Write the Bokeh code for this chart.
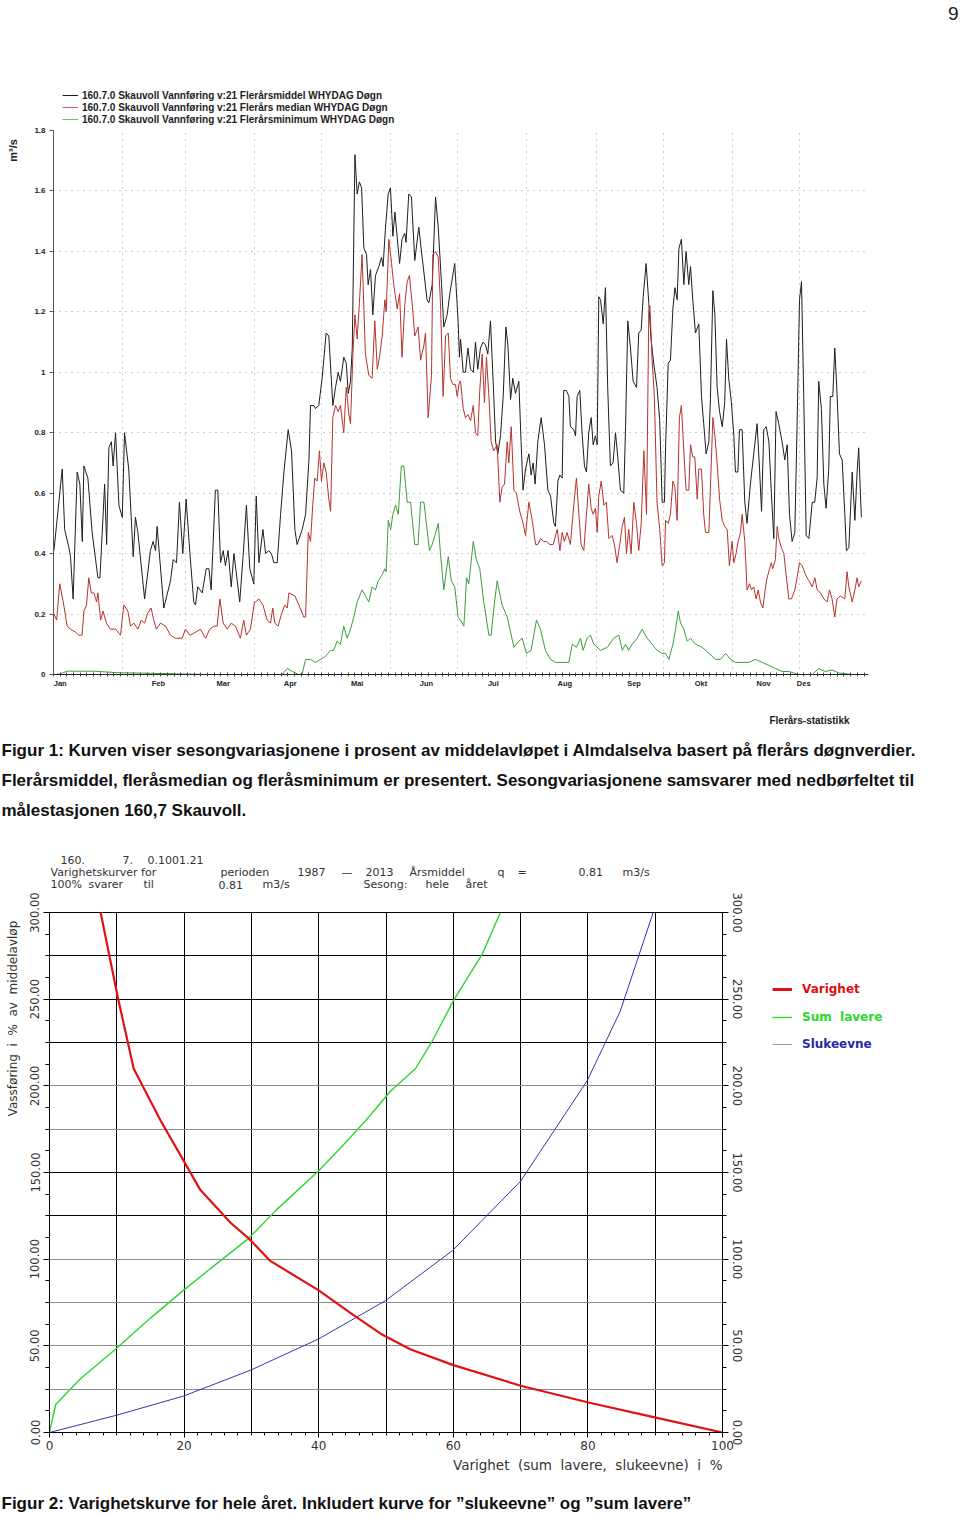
import math
from bokeh.plotting import figure
from bokeh.models import (FixedTicker, CustomJSTickFormatter, PrintfTickFormatter, LinearAxis,
                          Label, Legend, LegendItem, Grid, Range1d)
from bokeh.layouts import column, row
from bokeh.embed import file_html
from bokeh.resources import INLINE

# ---------------- Chart 1 data (day of year, m3/s) ----------------
mean_day = [0.2, 3.9, 5.0, 6.9, 7.6, 8.8, 10.6, 11.8, 12.9, 13.6, 15.4, 17.3, 19.9, 20.8, 22.9, 23.8, 24.8, 25.9, 26.7, 27.8,
            29.3, 30.8, 31.8, 33.7, 35.7, 36.7, 37.8, 40.8, 43.4, 44.6, 45.7, 46.4, 49.4, 52.4, 53.6, 55.1, 56.4, 57.9, 59.4, 61.1,
            62.8, 63.6, 64.6, 66.6, 68.4, 69.6, 70.6, 72.5, 73.6, 74.8, 76.0, 77.0, 78.2, 79.6, 80.8, 81.8, 83.4, 84.9, 86.4, 87.9,
            89.7,
            90.8, 92.0, 93.8, 95.0, 96.4, 97.6, 98.7, 100.2, 101.7, 103.2, 105.1, 106.6, 108.1, 109.1, 111.4, 112.9, 114.4, 115.1, 116.6, 117.3,
            118.8, 120.3, 122.1, 123.3, 125.1, 126.3, 127.5, 128.5, 130.0, 131.1, 132.0, 133.0, 133.8, 135.0, 136.0, 137.0, 138.0, 139.0, 140.2, 140.9,
            142.0, 143.0, 144.2, 145.7, 146.9, 147.6, 148.7, 149.9, 150.9, 152.0, 152.9, 155.0, 156.1, 157.3, 157.9, 159.1, 160.3, 161.8, 163.6, 165.1,
            167.3, 168.1, 169.6, 171.1, 172.3, 173.8, 174.8, 176.3, 177.5, 179.7, 181.2, 181.8,
            182.3, 183.5, 184.5, 185.6, 186.8, 188.0, 189.0, 190.0, 191.2, 192.4, 193.5, 194.5, 195.7, 196.9, 198.0, 199.0, 200.2, 201.4, 202.6, 203.5,
            204.7, 205.7, 206.9, 208.4, 209.4, 210.3, 211.4, 212.9, 213.9, 214.8, 215.7, 216.9, 218.4, 219.9, 221.4, 222.6, 224.1, 224.8, 225.9, 226.8,
            227.8, 228.5, 229.7, 230.8, 231.5, 233.0, 233.8, 234.5, 235.7, 236.8, 237.8, 238.7, 239.7, 240.8, 241.7, 242.7, 243.5, 244.2, 245.0, 246.2,
            247.2, 248.2, 249.4, 250.6, 251.7, 252.7, 253.9, 255.4, 256.2, 257.2, 258.4, 259.6, 261.1, 262.1, 263.2, 264.1, 265.4, 266.6, 267.6, 268.8,
            270.3, 271.5, 272.6, 273.6,
            274.1, 275.3, 276.3, 277.4, 278.3, 279.3, 280.1, 281.2, 282.3, 283.3, 284.5, 285.3, 286.3, 287.5, 289.0, 290.2, 291.2, 292.3, 293.5, 294.2,
            295.3, 296.2, 297.2, 298.3, 299.5, 300.6, 301.4, 302.4, 303.6, 304.7, 305.4, 306.5, 307.2, 308.4, 309.6, 310.6, 312.1, 313.6, 315.1, 316.2,
            317.1, 318.1, 319.2, 320.4, 321.5, 322.6, 323.6, 324.8, 326.3, 327.5, 328.6, 329.6, 330.8, 332.0, 333.0, 334.1, 335.0, 336.0, 337.1, 338.3,
            339.8, 340.9, 342.0, 342.7, 343.9, 345.0, 346.0, 347.2, 347.9, 349.0, 349.9, 350.9, 352.0, 353.2, 354.4, 355.1, 356.2, 357.7, 358.9, 359.9,
            360.6, 361.8]
mean_q = [0.41, 0.68, 0.48, 0.42, 0.39, 0.25, 0.67, 0.63, 0.44, 0.69, 0.65, 0.47, 0.32, 0.32, 0.63, 0.43, 0.75, 0.77, 0.69, 0.80,
          0.56, 0.52, 0.80, 0.68, 0.39, 0.52, 0.47, 0.25, 0.41, 0.44, 0.41, 0.49, 0.22, 0.31, 0.38, 0.37, 0.57, 0.40, 0.58, 0.40,
          0.24, 0.23, 0.29, 0.27, 0.35, 0.35, 0.28, 0.61, 0.61, 0.37, 0.41, 0.36, 0.41, 0.29, 0.40, 0.34, 0.24, 0.39, 0.56, 0.35,
          0.30,
          0.59, 0.37, 0.48, 0.40, 0.41, 0.40, 0.37, 0.37, 0.53, 0.67, 0.81, 0.74, 0.48, 0.43, 0.48, 0.53, 0.71, 0.89, 0.89, 0.88,
          0.89, 0.98, 1.13, 1.12, 0.89, 0.95, 1.00, 0.97, 1.05, 1.03, 0.93, 0.97, 1.08, 1.72, 1.59, 1.63, 1.61, 1.41, 1.39, 1.29,
          1.34, 1.19, 1.32, 1.35, 1.38, 1.35, 1.48, 1.59, 1.61, 1.45, 1.53, 1.36, 1.44, 1.46, 1.43, 1.59, 1.58, 1.37, 1.48, 1.38,
          1.24, 1.23, 1.29, 1.58, 1.48, 1.29, 1.15, 1.19, 1.26, 1.36, 1.17, 1.05,
          1.11, 1.00, 1.00, 1.08, 1.01, 1.00, 1.10, 1.01, 1.08, 1.10, 1.09, 1.06, 1.17, 0.97, 0.77, 0.73, 0.79, 0.92, 1.15, 1.09,
          0.91, 0.98, 0.93, 0.97, 0.77, 0.61, 0.68, 0.73, 0.66, 0.70, 0.63, 0.77, 0.85, 0.76, 0.61, 0.59, 0.50, 0.49, 0.64, 0.66,
          0.65, 0.94, 0.94, 0.92, 0.82, 0.81, 0.79, 0.92, 0.94, 0.79, 0.69, 0.67, 0.80, 0.85, 0.76, 0.79, 0.76, 1.25, 1.24, 1.16,
          1.28, 0.95, 0.69, 0.70, 0.80, 0.72, 0.61, 0.60, 0.82, 1.17, 1.08, 0.97, 0.95, 1.13, 1.14, 1.25, 1.36, 1.23, 1.11, 1.03,
          0.95, 0.84, 0.57, 0.57,
          0.75, 1.03, 1.04, 1.21, 1.28, 1.24, 1.41, 1.44, 1.29, 1.40, 1.29, 1.35, 1.24, 1.13, 1.16, 0.92, 0.83, 0.73, 0.77, 0.91,
          1.27, 1.19, 0.95, 0.87, 0.82, 0.90, 1.11, 0.98, 0.90, 0.79, 0.67, 0.67, 0.81, 0.81, 0.57, 0.50, 0.63, 0.73, 0.83, 0.68,
          0.54, 0.81, 0.82, 0.77, 0.60, 0.45, 0.87, 0.83, 0.77, 0.71, 0.76, 0.53, 0.44, 0.47, 0.82, 1.24, 1.30, 0.92, 0.46, 0.45,
          0.57, 0.57, 0.65, 0.97, 0.88, 0.63, 0.55, 0.68, 0.92, 0.92, 1.08, 0.93, 0.73, 0.71, 0.53, 0.41, 0.42, 0.67, 0.51, 0.67,
          0.75, 0.52]

median_day = [0.2, 1.4, 2.8, 4.6, 6.1, 7.6, 9.9, 11.3, 12.8, 13.6, 14.8, 15.8, 16.9, 18.1, 19.3, 19.9, 21.1, 22.2, 23.7, 25.5,
              27.8, 30.0, 31.5, 33.3, 34.5, 36.0, 37.8, 39.3, 40.8, 42.0, 43.7, 44.9, 46.1, 47.9, 50.2, 52.4, 54.6, 57.6, 59.1, 61.1,
              63.6, 65.8, 68.1, 70.0, 71.8, 73.3, 74.5, 76.0, 77.8, 79.6, 81.5, 83.7, 85.2, 86.4, 88.2, 90.0,
              90.5, 92.0, 93.8, 95.7, 97.2, 98.2, 99.1, 100.6, 102.1, 103.6, 104.7, 105.4, 108.1, 109.9, 112.1, 112.9, 114.1, 115.1, 116.1, 117.0,
              118.1, 119.1, 120.0, 121.1, 122.1, 123.3, 124.1, 125.1, 126.3, 127.5, 128.5, 130.0, 131.1, 132.3, 133.0, 134.1, 135.0, 136.0, 137.0, 138.2,
              139.7, 141.2, 142.7, 143.9, 145.0, 146.0, 147.2, 148.4, 149.0, 150.2, 151.4, 152.4, 153.9, 155.0, 156.1, 157.3, 158.4, 159.4, 160.6, 161.8,
              163.3, 164.4, 165.9, 166.6, 167.8, 169.3, 169.9, 171.1, 172.3, 173.3, 174.5, 175.6, 176.8, 177.8, 178.8, 180.0, 180.8, 181.8,
              182.3, 183.5, 184.5, 185.6, 186.8, 188.0, 189.0, 190.0, 190.9, 192.0, 193.0, 193.9, 195.0, 196.0, 197.2, 198.7, 199.9, 200.9, 202.0, 203.2,
              203.9, 205.0, 206.2, 207.3, 208.8, 210.3, 211.4, 212.9, 214.4, 215.9, 216.9, 218.1, 219.6, 220.8, 222.3, 223.8, 225.6, 226.8, 227.8, 228.8,
              230.0, 231.5, 233.0, 234.2, 235.3, 236.3, 237.5, 238.7, 239.7, 240.8, 241.7, 242.7, 243.5, 244.2, 245.3, 246.5, 247.6, 248.7, 250.2, 251.2,
              252.4, 253.6, 254.7, 255.7, 256.6, 257.6, 258.7, 259.9, 261.1, 262.1, 263.2, 264.4, 265.6, 266.6, 267.1, 268.1, 269.1, 270.3, 271.5, 272.6,
              273.6,
              274.1, 275.3, 276.3, 277.4, 278.3, 279.3, 280.3, 281.2, 282.3, 283.3, 284.5, 285.3, 286.3, 287.2, 288.3, 289.0, 290.2, 291.2, 292.0, 293.5,
              295.3, 296.2, 297.2, 298.3, 299.5, 300.6, 301.7, 302.7, 303.9, 304.7, 305.7, 306.6, 307.7, 308.4, 309.6, 310.6, 311.7, 312.6, 313.6, 314.7,
              315.6, 316.6, 317.7, 318.9, 319.6, 320.7, 321.5, 322.1, 323.3, 324.1, 324.8, 326.0, 327.1, 328.1, 329.3, 330.5, 332.0, 333.0, 334.1, 335.3,
              336.8, 338.3, 339.8, 341.0, 342.0, 343.5, 345.0, 346.5, 347.5, 348.7, 349.9, 350.9, 352.4, 354.4, 355.4, 356.2, 357.7, 358.9, 359.9, 360.6,
              361.8]
median_q = [0.20, 0.18, 0.30, 0.23, 0.16, 0.15, 0.14, 0.13, 0.13, 0.21, 0.23, 0.32, 0.27, 0.27, 0.24, 0.27, 0.18, 0.21, 0.17, 0.15,
            0.15, 0.13, 0.23, 0.21, 0.16, 0.17, 0.15, 0.18, 0.17, 0.20, 0.22, 0.18, 0.15, 0.17, 0.16, 0.13, 0.12, 0.12, 0.15, 0.13,
            0.14, 0.15, 0.12, 0.15, 0.16, 0.16, 0.25, 0.17, 0.15, 0.17, 0.16, 0.12, 0.18, 0.13, 0.15, 0.24,
            0.24, 0.25, 0.23, 0.18, 0.17, 0.22, 0.17, 0.16, 0.20, 0.23, 0.22, 0.27, 0.26, 0.23, 0.19, 0.19, 0.47, 0.44, 0.56, 0.65,
            0.64, 0.74, 0.64, 0.70, 0.67, 0.58, 0.54, 0.85, 0.89, 0.87, 0.89, 0.80, 0.95, 0.86, 0.83, 1.06, 1.19, 1.11, 1.23, 1.39,
            1.06, 0.99, 0.98, 1.17, 1.01, 1.05, 1.12, 1.24, 1.20, 1.44, 1.36, 1.29, 1.21, 1.26, 1.05, 1.22, 1.30, 1.32, 1.23, 1.12,
            1.15, 1.04, 1.09, 1.13, 0.85, 0.99, 1.39, 1.40, 1.38, 1.23, 0.92, 1.12, 1.13, 0.98, 0.96, 0.96, 0.92, 0.97,
            0.97, 0.88, 0.85, 0.86, 0.84, 0.89, 0.80, 0.79, 0.94, 1.06, 0.90, 1.05, 0.92, 0.77, 0.74, 0.76, 0.57, 0.62, 0.63, 0.77,
            0.70, 0.82, 0.61, 0.60, 0.54, 0.50, 0.46, 0.57, 0.51, 0.43, 0.43, 0.45, 0.44, 0.44, 0.43, 0.43, 0.48, 0.41, 0.47, 0.44,
            0.47, 0.43, 0.56, 0.65, 0.53, 0.43, 0.41, 0.53, 0.63, 0.55, 0.53, 0.55, 0.47, 0.59, 0.64, 0.56, 0.57, 0.45, 0.46, 0.43,
            0.37, 0.43, 0.49, 0.52, 0.40, 0.48, 0.40, 0.57, 0.50, 0.41, 0.50, 0.74, 0.53, 1.20, 1.22, 1.04, 0.92, 0.57, 0.48, 0.36,
            0.37,
            0.51, 0.50, 0.53, 0.64, 0.62, 0.51, 0.85, 0.89, 0.74, 0.61, 0.61, 0.76, 0.72, 0.72, 0.58, 0.68, 0.68, 0.53, 0.47, 0.47,
            0.85, 0.79, 0.70, 0.58, 0.51, 0.49, 0.48, 0.36, 0.44, 0.37, 0.40, 0.44, 0.47, 0.53, 0.44, 0.28, 0.30, 0.28, 0.29, 0.25,
            0.28, 0.24, 0.22, 0.29, 0.32, 0.35, 0.37, 0.35, 0.38, 0.49, 0.45, 0.42, 0.40, 0.33, 0.25, 0.25, 0.28, 0.32, 0.37, 0.36,
            0.33, 0.31, 0.29, 0.32, 0.28, 0.27, 0.25, 0.24, 0.28, 0.25, 0.19, 0.25, 0.26, 0.25, 0.34, 0.29, 0.24, 0.28, 0.32, 0.29,
            0.31]

min_day = [0.2, 3.0, 6.1, 18.1, 28.5, 43.4, 56.0, 68.8, 90.5, 102.4, 104.7, 106.9, 109.9, 111.4, 112.9, 115.1, 117.3, 119.6, 121.8, 124.1,
           125.5, 127.0, 128.5, 130.0, 131.5, 133.0, 134.5, 136.0, 138.2, 139.7, 141.2, 142.7, 144.2, 145.4, 147.2, 148.4, 149.0, 149.9, 151.0, 152.0,
           153.2, 154.4, 155.8, 156.9, 158.4, 159.9, 161.8, 163.3, 164.4, 165.9, 167.3, 168.4, 169.6, 170.8, 172.3, 173.3, 174.8, 176.8, 178.2, 179.7,
           181.2, 182.3, 183.8, 185.0, 186.0, 188.0, 189.4, 190.9, 192.7, 195.0, 196.0, 197.2, 198.7, 200.9, 203.2, 206.2, 208.4, 209.9, 211.8, 213.9,
           216.3, 218.1, 220.3, 222.6, 224.8, 228.5, 230.8, 232.3, 234.2, 236.0, 237.2, 239.0, 240.5, 242.0, 245.0, 248.0, 250.9, 253.2, 254.7, 256.2,
           257.6, 259.1, 261.4, 263.6, 265.9, 268.1, 270.3, 272.6, 274.1, 275.6, 277.4, 278.6, 279.8, 280.8, 282.3, 283.8, 285.3, 287.5, 290.5, 293.5,
           296.5, 298.7, 301.0, 303.2, 305.4, 308.4, 311.4, 314.4, 317.4, 320.4, 323.3, 326.3, 329.3, 333.8, 339.8, 342.7, 345.7, 348.7, 351.7, 357.7,
           362.1]
min_q = [0.0, 0.002, 0.011, 0.011, 0.006, 0.004, 0.002, 0.0, 0.0, 0.0, 0.02, 0.01, 0.0, 0.003, 0.05, 0.05, 0.04, 0.05, 0.06, 0.08,
         0.08, 0.11, 0.10, 0.16, 0.12, 0.15, 0.19, 0.24, 0.28, 0.26, 0.24, 0.29, 0.28, 0.31, 0.33, 0.35, 0.34, 0.51, 0.48, 0.53,
         0.56, 0.53, 0.69, 0.69, 0.57, 0.57, 0.43, 0.43, 0.57, 0.57, 0.48, 0.41, 0.43, 0.46, 0.50, 0.40, 0.28, 0.39, 0.31, 0.29,
         0.19, 0.18, 0.16, 0.32, 0.30, 0.44, 0.38, 0.35, 0.24, 0.13, 0.13, 0.22, 0.31, 0.23, 0.19, 0.09, 0.11, 0.12, 0.07, 0.08,
         0.18, 0.15, 0.08, 0.05, 0.04, 0.04, 0.04, 0.10, 0.09, 0.12, 0.08, 0.12, 0.13, 0.10, 0.08, 0.09, 0.12, 0.13, 0.08, 0.10,
         0.08, 0.10, 0.12, 0.15, 0.12, 0.10, 0.08, 0.07, 0.07, 0.05, 0.10, 0.15, 0.21, 0.17, 0.15, 0.11, 0.12, 0.10, 0.09, 0.07,
         0.05, 0.05, 0.07, 0.05, 0.04, 0.04, 0.04, 0.05, 0.04, 0.03, 0.02, 0.01, 0.01, 0.0, 0.0, 0.02, 0.01, 0.015, 0.005, 0.0,
         0.0]

month_names = ["Jan", "Feb", "Mar", "Apr", "Mai", "Jun", "Jul", "Aug", "Sep", "Okt", "Nov", "Des"]
month_label_day = [3, 47, 76, 106, 136, 167, 197, 229, 260, 290, 318, 336]
month_start_day = [31, 59, 90, 120, 151, 181, 212, 243, 273, 304, 334, 365]
q_ticks = [0, 0.2, 0.4, 0.6, 0.8, 1.0, 1.2, 1.4, 1.6, 1.8]

legend1_labels = ["160.7.0 Skauvoll Vannføring v:21 Flerårsmiddel WHYDAG Døgn",
                  "160.7.0 Skauvoll Vannføring v:21 Flerårs median WHYDAG Døgn",
                  "160.7.0 Skauvoll Vannføring v:21 Flerårsminimum WHYDAG Døgn"]

caption1 = ["Figur 1: Kurven viser sesongvariasjonene i prosent av middelavløpet i Almdalselva basert på flerårs døgnverdier.",
            "Flerårsmiddel, fleråsmedian og fleråsminimum er presentert. Sesongvariasjonene samsvarer med nedbørfeltet til",
            "målestasjonen 160,7 Skauvoll."]

# ---------------- Chart 2 data (% duration, % of mean flow) ----------------
varighet_pct = [7.6, 10.1, 12.5, 16.5, 19.9, 22.4, 26.9, 29.6, 32.8, 40.0, 44.7, 49.2, 53.6, 59.9, 70.0, 80.4, 89.6, 100.0]
varighet_val = [300, 252, 210, 180, 157, 140, 121, 112, 99, 82, 69, 57, 48, 39, 27, 17, 9, 0]
sum_lavere_pct = [0, 0.9, 4.6, 9.8, 15.0, 19.9, 24.7, 29.6, 33.6, 40.0, 43.2, 47.0, 50.7, 54.4, 56.9, 60.0, 64.3, 67.0]
sum_lavere_val = [0, 16, 31, 48, 66, 82, 97, 112, 128, 151, 164, 180, 197, 210, 226, 249, 276, 300]
slukeevne_pct = [0, 10, 19.9, 29.9, 40, 49.9, 59.9, 70, 79.9, 84.8, 89.7]
slukeevne_val = [0, 10, 21, 36, 54, 76, 105, 145, 203, 243, 300]

pct_ticks = [0, 20, 40, 60, 80, 100]
pct_grid = [10, 20, 30, 40, 50, 60, 70, 80, 90]
val_ticks = [0, 50, 100, 150, 200, 250, 300]
val_grid_dark = [125, 150, 225, 250, 275]
val_grid_light = [25, 50, 75, 100, 175, 200]

NB = "\u00a0"
header_lines = [
    [(60, "160."), (122, "7."), (147, "0.1001.21")],
    [(50, "Varighetskurver for"), (220, "perioden"), (297, "1987"), (341, "—"), (365, "2013"), (409, "Årsmiddel"),
     (497, "q"), (517, "="), (578, "0.81"), (622, "m3/s")],
    [(50, "100%"), (88, "svarer"), (143, "til"), (218, "0.81"), (262, "m3/s"), (363, "Sesong:"), (425, "hele"), (465, "året")],
]
caption2 = "Figur 2: Varighetskurve for hele året. Inkludert kurve for ”slukeevne” og ”sum lavere”"
y2_title = NB.join(["Vassføring", "", "i", "", "%", "", "av", "", "middelavløp"])
x2_title = NB.join(["Varighet", "", "(sum", "", "lavere,", "", "slukeevne)", "", "i", "", "%"])

SANS = "Liberation Sans"
PLOT = "DejaVu Sans"
NAN = float("nan")


def no_align(fig):
    if "frame_align" in fig.properties():
        fig.frame_align = False
    return fig


def text_fig(x0, y0, w, h):
    """A blank strip whose data units are page pixels (y grows downward)."""
    f = figure(width=w, height=h, x_range=Range1d(x0, x0 + w), y_range=Range1d(y0 + h, y0),
               x_axis_type=None, y_axis_type=None, output_backend="svg", toolbar_location=None,
               min_border=0, title_location=None)
    f.outline_line_color = None
    return no_align(f)


def put(f, x, y, text, font=SANS, size="12px", style="normal", align="left", color="#222", angle=0.0):
    f.add_layout(Label(x=x, y=y, text=text, text_font=font, text_font_size=size, text_font_style=style,
                       text_align=align, text_baseline="middle", text_color=color, angle=angle))


# ===== strip 0: page number + legend of chart 1 (y 0..126) =====
s0 = text_fig(0, 0, 960, 126)
put(s0, 958, 13, "9", size="19px", align="right", color="#222")
d_mean = s0.line([NAN], [NAN], line_color="#1e1e1e", line_width=1)
d_med = s0.line([NAN], [NAN], line_color="#c8625c", line_width=1)
d_min = s0.line([NAN], [NAN], line_color="#6fbf6f", line_width=1)
leg1 = Legend(items=[LegendItem(label=legend1_labels[0], renderers=[d_mean]),
                     LegendItem(label=legend1_labels[1], renderers=[d_med]),
                     LegendItem(label=legend1_labels[2], renderers=[d_min])],
              location=(62, 1), orientation="vertical",
              label_text_font=SANS, label_text_font_style="bold", label_text_font_size="10px",
              label_text_color="#222", glyph_width=16, glyph_height=12, label_height=12,
              label_standoff=4, spacing=0, padding=0, margin=0,
              border_line_color=None, background_fill_alpha=0)
s0.add_layout(leg1)

# ===== row 1: y label + chart 1 (y 126..700) =====
l1 = text_fig(0, 126, 24, 574)
put(l1, 12, 150, "m³/s", size="11px", style="bold", align="center", angle=math.pi / 2)

p1 = figure(width=936, height=574, x_range=Range1d(0, 365), y_range=Range1d(0, 1.8),
            output_backend="svg", toolbar_location=None, title_location=None,
            min_border_left=29, min_border_right=92, min_border_top=4, min_border_bottom=26)
no_align(p1)
p1.outline_line_color = None

p1.xaxis.ticker = FixedTicker(ticks=month_label_day, minor_ticks=list(range(0, 366, 3)))
p1.xaxis.major_label_overrides = {d: m for d, m in zip(month_label_day, month_names)}
p1.xaxis.major_tick_line_color = None
p1.xaxis.major_tick_out = 2
p1.xaxis.major_label_standoff = 2
p1.xaxis.minor_tick_in = 2
p1.xaxis.minor_tick_out = 2
p1.xaxis.minor_tick_line_color = "#444"
p1.xaxis.axis_line_color = "#222"
p1.xaxis.major_label_text_font = SANS
p1.xaxis.major_label_text_font_style = "bold"
p1.xaxis.major_label_text_font_size = "7.5px"
p1.xaxis.major_label_text_color = "#222"

p1.yaxis.ticker = FixedTicker(ticks=q_ticks)
p1.yaxis.formatter = CustomJSTickFormatter(code="return String(Math.round(tick*10)/10);")
p1.yaxis.major_tick_out = 4
p1.yaxis.major_tick_in = 0
p1.yaxis.minor_tick_line_color = None
p1.yaxis.axis_line_color = "#555"
p1.yaxis.major_tick_line_color = "#555"
p1.yaxis.major_label_standoff = 4
p1.yaxis.major_label_text_font = SANS
p1.yaxis.major_label_text_font_style = "bold"
p1.yaxis.major_label_text_font_size = "8px"
p1.yaxis.major_label_text_color = "#222"

p1.xgrid.ticker = FixedTicker(ticks=month_start_day)
p1.ygrid.ticker = FixedTicker(ticks=q_ticks)
for g in (p1.xgrid, p1.ygrid):
    g.grid_line_color = "#999999"
    g.grid_line_dash = "1 5"
    g.grid_line_width = 1

p1.line(mean_day, mean_q, line_color="#1e1e1e", line_width=1)
p1.line(median_day, median_q, line_color="#b5332e", line_width=1)
p1.line(min_day, min_q, line_color="#3c9c3c", line_width=1)

# ===== strip 2: footnote, caption 1, header of chart 2 (y 700..892) =====
s2 = text_fig(0, 700, 960, 192)
put(s2, 849, 720, "Flerårs-statistikk", size="10px", style="bold", align="right")
for i, line in enumerate(caption1):
    put(s2, 1, 750 + 30 * i, line, size="17px", style="bold", color="#111")
for i, segs in enumerate(header_lines):
    for sx, txt in segs:
        put(s2, sx, 859 + 12.5 * i, txt, font=PLOT, size="11px", color="#333")

# ===== row 2: y label + chart 2 + legend (y 892..1456) =====
l2 = text_fig(0, 892, 22, 564)
put(l2, 12, 1018, y2_title, font=PLOT, size="12px", align="center", color="#333", angle=math.pi / 2)

p2 = figure(width=728, height=564, x_range=Range1d(0, 100), y_range=Range1d(0, 300),
            output_backend="svg", toolbar_location=None, title_location=None,
            min_border_left=27, min_border_right=28, min_border_top=20, min_border_bottom=24)
no_align(p2)
p2.outline_line_color = "black"
p2.outline_line_width = 1

p2.xaxis.ticker = FixedTicker(ticks=pct_ticks, minor_ticks=list(range(0, 101, 2)))
p2.xaxis.major_tick_out = 5
p2.xaxis.major_tick_in = 0
p2.xaxis.minor_tick_out = 3
p2.xaxis.minor_tick_in = 0
p2.xaxis.major_label_standoff = 3
p2.xaxis.axis_line_color = "black"
p2.xaxis.major_label_text_font = PLOT
p2.xaxis.major_label_text_font_size = "12px"
p2.xaxis.major_label_text_color = "#333"

yfmt = PrintfTickFormatter(format="%.2f")
yticker = FixedTicker(ticks=val_ticks, minor_ticks=[12.5 * k for k in range(25)])
right_axis = LinearAxis()
p2.add_layout(right_axis, "right")
for ax in (p2.yaxis[0], right_axis):
    ax.ticker = yticker
    ax.formatter = yfmt
    ax.major_label_orientation = "vertical"
    ax.major_tick_out = 6
    ax.major_tick_in = 0
    ax.minor_tick_out = 4
    ax.minor_tick_in = 0
    ax.major_label_standoff = 4
    ax.axis_line_color = "black"
    ax.major_label_text_font = PLOT
    ax.major_label_text_font_size = "11.5px"
    ax.major_label_text_color = "#333"

p2.xgrid.ticker = FixedTicker(ticks=pct_grid)
p2.xgrid.grid_line_color = "black"
p2.xgrid.grid_line_width = 1
p2.ygrid.ticker = FixedTicker(ticks=val_grid_dark)
p2.ygrid.grid_line_color = "black"
p2.ygrid.grid_line_width = 1
p2.add_layout(Grid(dimension=1, ticker=FixedTicker(ticks=val_grid_light),
                   grid_line_color="#8c8c8c", grid_line_width=1))

p2.line(slukeevne_pct, slukeevne_val, line_color="#3434b4", line_width=1)
p2.line(sum_lavere_pct, sum_lavere_val, line_color="#2fd62f", line_width=1.4)
p2.line(varighet_pct, varighet_val, line_color="#e21212", line_width=2.2)

r2 = text_fig(750, 892, 210, 564)
leg_specs = [("Varighet", "#dd1010", "#e01010", 3, 460),
             ("Sum" + NB + NB + "lavere", "#2ad82a", "#33dd33", 1.5, 432),
             ("Slukeevne", "#2828a8", "#9a9a9a", 1, 405)]
for lab, tcol, lcol, lw, ly in leg_specs:
    dummy = r2.line([NAN], [NAN], line_color=lcol, line_width=lw)
    r2.add_layout(Legend(items=[LegendItem(label=lab, renderers=[dummy])], location=(22, ly),
                         label_text_font=PLOT, label_text_font_style="bold", label_text_font_size="12px",
                         label_text_color=tcol, glyph_width=20, glyph_height=12, label_height=12,
                         label_standoff=10, spacing=0, padding=0, margin=0,
                         border_line_color=None, background_fill_alpha=0))

# ===== strip 4: axis title + caption 2 (y 1456..1516) =====
s4 = text_fig(0, 1456, 960, 60)
put(s4, 722, 1464, x2_title, font=PLOT, size="13.5px", align="right", color="#333")
put(s4, 1, 1503, caption2, size="17px", style="bold", color="#111")

layout = column(s0, row(l1, p1, spacing=0), s2, row(l2, p2, r2, spacing=0), s4, spacing=0)
with open("out.html", "w") as f:
    f.write(file_html(layout, INLINE))
